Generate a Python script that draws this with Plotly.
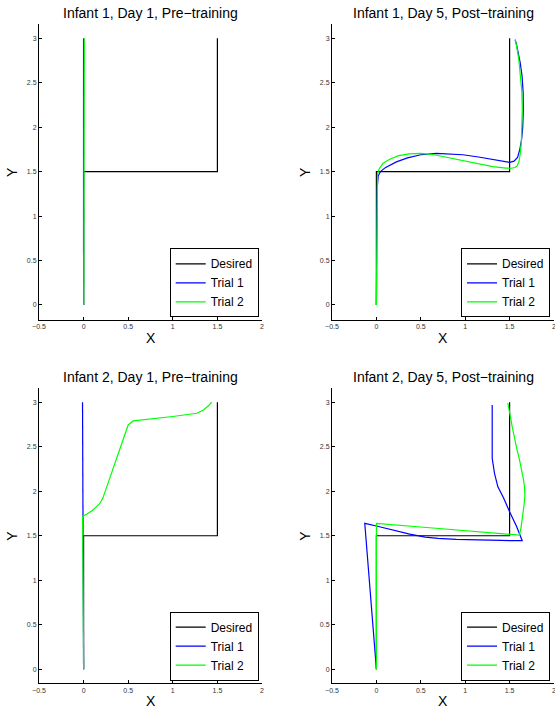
import plotly.graph_objects as go

W, H = 555, 709

# ---------------- data ----------------
desired_x = [0, 0, 1.5, 1.5]
desired_y = [0, 1.5, 1.5, 3]

# Infant 1, Day 1, Pre-training
i1d1_t1_x = [0, 0, 0, -0.001]
i1d1_t1_y = [0, 1.0, 2.0, 3.0]
i1d1_t2_x = [0.002, 0.004, 0.006, 0.008]
i1d1_t2_y = [0, 1.0, 2.0, 3.0]

# Infant 1, Day 5, Post-training
i1d5_t1_x = [0, 0.004, 0.008, 0.02, 0.045, 0.1, 0.225, 0.35, 0.5, 0.675, 0.85, 0.975, 1.15, 1.31,
             1.42, 1.5, 1.55, 1.59, 1.615, 1.635, 1.648, 1.655, 1.652, 1.64, 1.62, 1.598, 1.578, 1.562]
i1d5_t1_y = [0, 0.7, 1.3, 1.45, 1.5, 1.545, 1.61, 1.655, 1.69, 1.706, 1.70, 1.69, 1.665, 1.64,
             1.615, 1.605, 1.618, 1.66, 1.75, 1.86, 2.0, 2.2, 2.4, 2.58, 2.72, 2.84, 2.93, 2.985]
i1d5_t2_x = [0, 0.003, 0.006, 0.012, 0.03, 0.075, 0.15, 0.25, 0.37, 0.5, 0.65, 0.8, 0.975, 1.15,
             1.31, 1.46, 1.52, 1.56, 1.585, 1.605, 1.62, 1.632, 1.64, 1.643, 1.638, 1.625, 1.605,
             1.585, 1.565]
i1d5_t2_y = [0, 0.8, 1.3, 1.47, 1.53, 1.594, 1.64, 1.68, 1.70, 1.706, 1.69, 1.66, 1.625, 1.585,
             1.556, 1.54, 1.538, 1.547, 1.565, 1.61, 1.7, 1.83, 2.0, 2.2, 2.4, 2.58, 2.75, 2.88, 2.98]

# Infant 2, Day 1, Pre-training
i2d1_t1_x = [0, -0.004, -0.008, -0.012]
i2d1_t1_y = [0, 1.0, 2.0, 3.0]
i2d1_t2_x = [0, -0.004, -0.008, -0.011, 0.0, 0.04, 0.105, 0.18, 0.215, 0.3, 0.4, 0.5, 0.555,
             0.75, 1.0, 1.27, 1.34, 1.4, 1.435]
i2d1_t2_y = [0, 0.7, 1.3, 1.71, 1.725, 1.745, 1.79, 1.86, 1.92, 2.17, 2.46, 2.745, 2.79,
             2.81, 2.84, 2.876, 2.91, 2.96, 3.0]

# Infant 2, Day 5, Post-training
i2d5_t1_x = [0, -0.131, 0, 0.2, 0.375, 0.55, 0.693, 0.9, 1.162, 1.4, 1.642, 1.58, 1.5, 1.43,
             1.368, 1.33, 1.304, 1.304, 1.304, 1.304]
i2d5_t1_y = [0, 1.639, 1.609, 1.56, 1.519, 1.485, 1.47, 1.46, 1.451, 1.447, 1.444, 1.6, 1.77,
             1.93, 2.05, 2.2, 2.37, 2.6, 2.8, 2.97]
i2d5_t2_x = [0, 0, 0, 0.6, 1.2, 1.612, 1.63, 1.648, 1.662, 1.672, 1.668, 1.655, 1.635, 1.61,
             1.585, 1.558, 1.53, 1.505, 1.48]
i2d5_t2_y = [0, 0.8, 1.639, 1.59, 1.54, 1.507, 1.6, 1.72, 1.84, 1.95, 2.05, 2.14, 2.25, 2.36,
             2.46, 2.58, 2.72, 2.86, 2.99]

titles = ["Infant 1, Day 1, Pre\u2212training", "Infant 1, Day 5, Post\u2212training",
          "Infant 2, Day 1, Pre\u2212training", "Infant 2, Day 5, Post\u2212training"]
x_ticks = [-0.5, 0, 0.5, 1, 1.5, 2]
x_ticklabels = ["\u22120.5", "0", "0.5", "1", "1.5", "2"]
y_ticks = [0, 0.5, 1, 1.5, 2, 2.5, 3]
y_ticklabels = ["0", "0.5", "1", "1.5", "2", "2.5", "3"]
legend_names = ["Desired", "Trial 1", "Trial 2"]

panels = [
    (i1d1_t1_x, i1d1_t1_y, i1d1_t2_x, i1d1_t2_y),
    (i1d5_t1_x, i1d5_t1_y, i1d5_t2_x, i1d5_t2_y),
    (i2d1_t1_x, i2d1_t1_y, i2d1_t2_x, i2d1_t2_y),
    (i2d5_t1_x, i2d5_t1_y, i2d5_t2_x, i2d5_t2_y),
]

# ---------------- layout geometry (pixels) ----------------
FONT = "Liberation Sans, Arial, sans-serif"
xdom_px = [(39, 262), (332, 554), (39, 262), (332, 554)]
ydom_px = [(24, 320), (24, 320), (388, 683.3), (388, 683.3)]
yranges = [(-0.169, 3.161), (-0.169, 3.161), (-0.158, 3.16), (-0.158, 3.16)]
legend_pos = [(258.7, 317.3), (550, 317.3), (258.7, 680.7), (550, 680.7)]
colors = ["#000000", "#0000FF", "#00FF00"]

fig = go.Figure()
layout = dict(
    width=W, height=H, margin=dict(l=0, r=0, t=0, b=0, pad=0, autoexpand=False),
    paper_bgcolor="white", plot_bgcolor="white",
    font=dict(family=FONT, color="black"),
    annotations=[],
)

for i, (t1x, t1y, t2x, t2y) in enumerate(panels):
    sfx = "" if i == 0 else str(i + 1)
    xa, ya = "x" + sfx, "y" + sfx
    lg = "legend" + sfx
    series = [(desired_x, desired_y), (t1x, t1y), (t2x, t2y)]
    for k, (sx, sy) in enumerate(series):
        fig.add_trace(go.Scatter(
            x=sx, y=sy, mode="lines", name=legend_names[k],
            line=dict(color=colors[k], width=1.2),
            xaxis=xa, yaxis=ya, legend=lg, showlegend=True,
            hoverinfo="skip",
        ))
    x0, x1 = xdom_px[i]
    y0, y1 = ydom_px[i]
    axcommon = dict(showgrid=False, zeroline=False, showline=True, linecolor="black",
                    linewidth=1, ticks="inside", ticklen=3, tickwidth=1, tickcolor="black",
                    tickfont=dict(size=7, color="#333333", family=FONT), mirror=False,
                    automargin=False, ticklabeloverflow="allow")
    layout["xaxis" + sfx] = dict(domain=[x0 / W, x1 / W], range=[-0.5, 2], anchor=ya,
                                 tickvals=x_ticks, ticktext=x_ticklabels, **axcommon)
    layout["yaxis" + sfx] = dict(domain=[1 - y1 / H, 1 - y0 / H], range=list(yranges[i]),
                                 anchor=xa, tickvals=y_ticks, ticktext=y_ticklabels, **axcommon)
    lx, ly = legend_pos[i]
    layout[lg] = dict(x=lx / W, y=1 - ly / H, xanchor="right", yanchor="bottom",
                      bgcolor="white", bordercolor="black", borderwidth=1,
                      font=dict(size=12, family=FONT, color="black"),
                      itemwidth=30, tracegroupgap=0)
    # title
    cx = (x0 + x1) / 2
    ty = 13 if i < 2 else 376.7
    layout["annotations"].append(dict(
        text=titles[i], x=cx / W, y=1 - ty / H, xref="paper", yref="paper",
        xanchor="center", yanchor="middle", showarrow=False,
        font=dict(size=14, family=FONT, color="black")))
    # X label
    layout["annotations"].append(dict(
        text="X", x=cx / W, y=1 - (y1 + 17.5) / H, xref="paper", yref="paper",
        xanchor="center", yanchor="middle", showarrow=False,
        font=dict(size=14, family=FONT, color="black")))
    # Y label
    layout["annotations"].append(dict(
        text="Y", x=(x0 - 27) / W, y=1 - ((y0 + y1) / 2) / H, xref="paper", yref="paper",
        xanchor="center", yanchor="middle", showarrow=False, textangle=-90,
        font=dict(size=14, family=FONT, color="black")))

fig.update_layout(**layout)
fig.write_html("out.html")
